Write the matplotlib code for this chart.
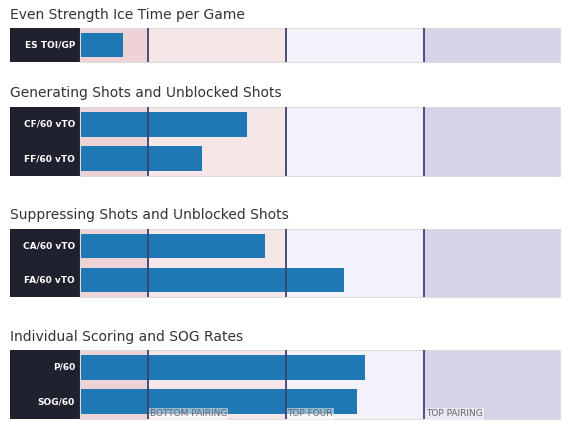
import matplotlib.pyplot as plt
from matplotlib.patches import Rectangle

titles = ['Even Strength Ice Time per Game', 'Generating Shots and Unblocked Shots',
          'Suppressing Shots and Unblocked Shots', 'Individual Scoring and SOG Rates']
labels = [['ES TOI/GP'], ['CF/60 vTO', 'FF/60 vTO'], ['CA/60 vTO', 'FA/60 vTO'], ['P/60', 'SOG/60']]
values = [[9.0], [34.8, 25.4], [38.5, 55.0], [59.4, 57.7]]
thresholds = [14.2, 42.9, 71.7]
tier_names = ['BOTTOM PAIRING', 'TOP FOUR', 'TOP PAIRING']
band_colors = ['#eed3d6', '#f5e6e7', '#f3f2fb', '#d6d3e8']

W, H = 575, 432
fig = plt.figure(figsize=(W / 100, H / 100), dpi=100)
fig.patch.set_facecolor('white')

# panel top/bottom in pixels, title y
panels = [(28, 62, 15), (107, 176, 93), (229, 297, 215), (350, 419, 337)]

for i, (top, bot, ty) in enumerate(panels):
    fig.text(10 / W, 1 - ty / H, titles[i], fontsize=10, color='#333333', va='center', ha='left')
    # label column
    lab = fig.add_axes([10 / W, 1 - bot / H, 70 / W, (bot - top) / H])
    lab.set_facecolor('#20212f')
    lab.set_xticks([]); lab.set_yticks([])
    for s in lab.spines.values():
        s.set_visible(False)
    n = len(labels[i])
    lab.set_ylim(n - 0.5, -0.5)
    for j, l in enumerate(labels[i]):
        lab.text(0.93, j, l, color='white', fontsize=6.5, fontweight='bold', ha='right', va='center',
                 transform=lab.get_yaxis_transform())
    ax = fig.add_axes([80 / W, 1 - bot / H, 480 / W, (bot - top) / H])
    ax.set_xlim(0, 100)
    ax.set_ylim(n - 0.5, -0.5)
    edges = [0] + thresholds + [100]
    for k in range(4):
        ax.axvspan(edges[k], edges[k + 1], color=band_colors[k], zorder=0, lw=0)
    ax.barh(range(n), values[i], height=0.72, color='#1f77b4', zorder=2)
    for t in thresholds:
        ax.axvline(t, color='#3b4270', lw=1.3, zorder=4)
    if i == 3:
        for t, name in zip(thresholds, tier_names):
            ax.text(t + 0.3, n - 0.5 - 0.02, name, fontsize=6.5, color='#666666', ha='left', va='bottom', zorder=3,
                    bbox=dict(facecolor='white', alpha=0.5, edgecolor='none', pad=1))
    ax.set_xticks([]); ax.set_yticks([])
    for s in ax.spines.values():
        s.set_color('#dddddd')

fig.savefig('out.png', dpi=100)
